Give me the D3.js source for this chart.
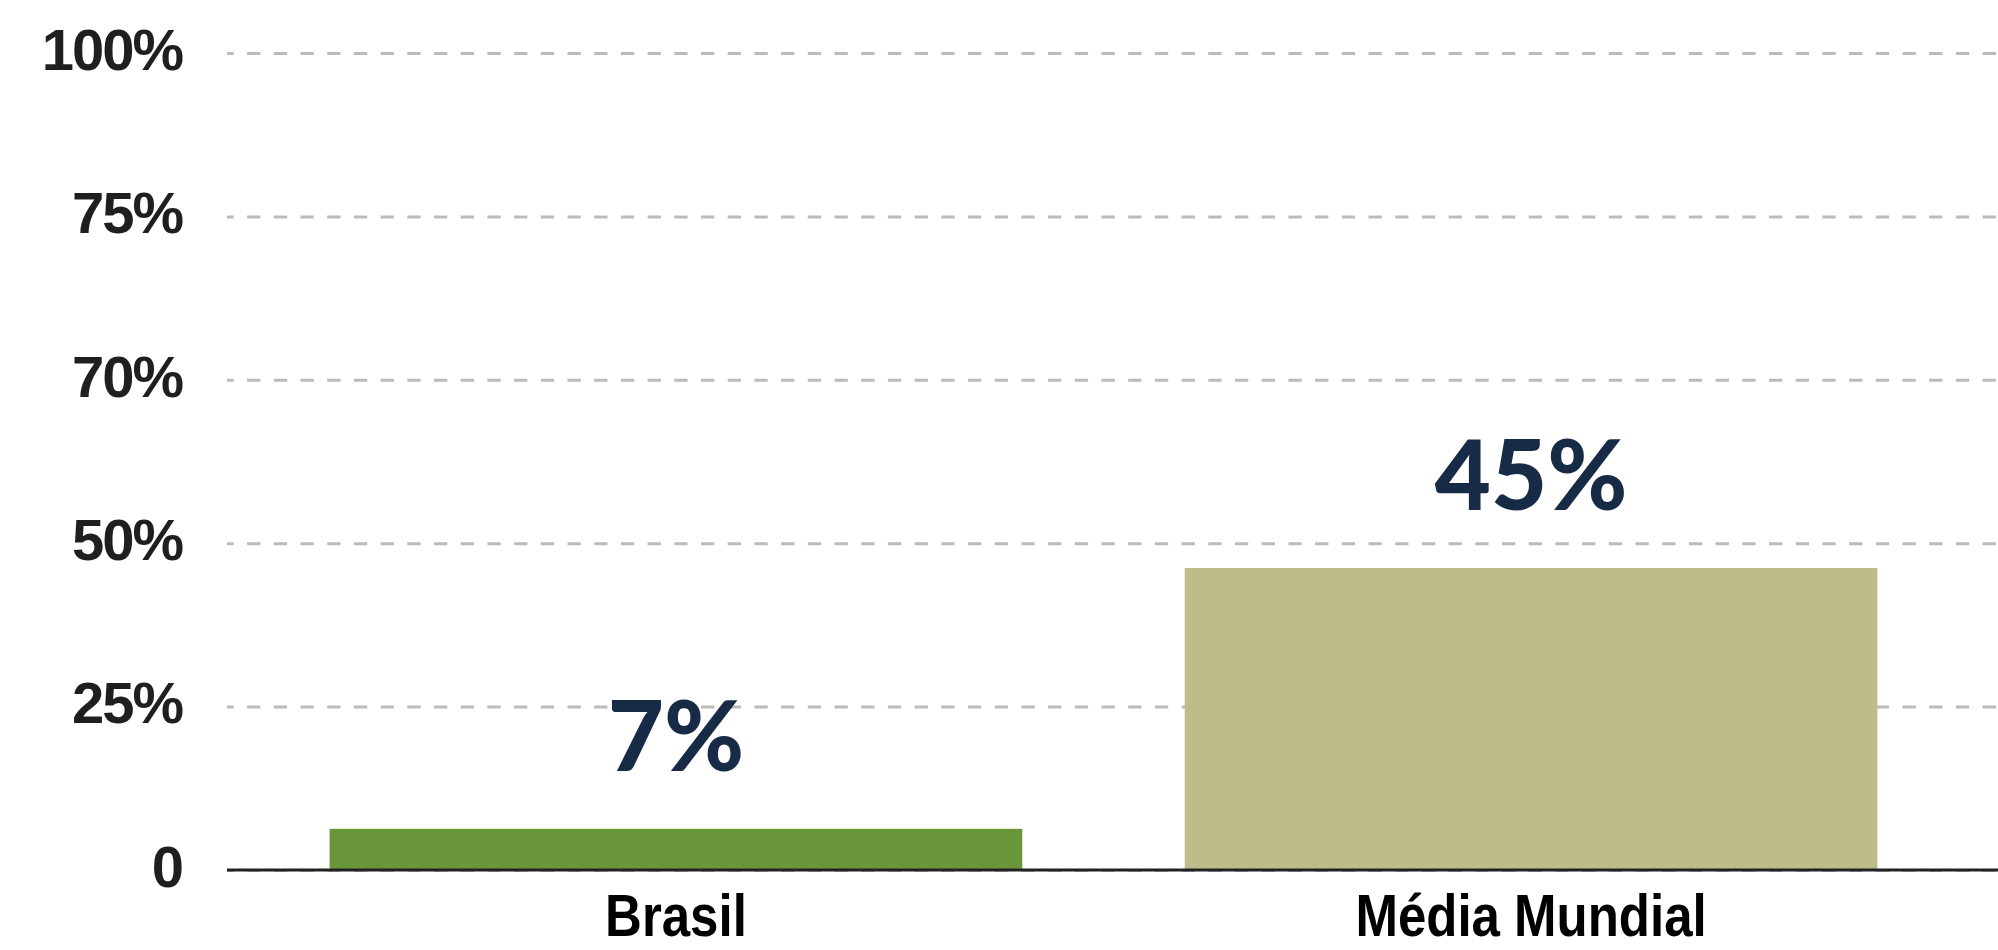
<!DOCTYPE html>
<html>
<head>
<meta charset="utf-8">
<script src="https://cdn.jsdelivr.net/npm/d3@7"></script>
<style>
  body { margin: 0; background: #fff; }
  svg { display: block; }
</style>
</head>
<body>
<div id="chart"></div>
<script>
const categories = ["Brasil", "Média Mundial"];
const values = [6.3, 46.2];
const valueLabels = ["7%", "45%"];
const barColors = ["#689638", "#bebc8b"];
const yTicks = [0, 25, 50, 75, 100, 125];
const yTickLabels = ["0", "25%", "50%", "70%", "75%", "100%"];

const svgWidth = 1998;
const svgHeight = 950;
const margin = { top: 53, right: 0, bottom: 80, left: 227 };
const height = svgHeight - margin.top - margin.bottom;
const width = svgWidth - margin.left - margin.right;

const svg = d3
  .select("#chart")
  .append("svg")
  .attr("width", svgWidth)
  .attr("height", svgHeight);

const g = svg
  .append("g")
  .attr("transform", `translate(${margin.left},${margin.top})`);

const x = d3
  .scaleBand()
  .domain(categories)
  .range([0, 1753])
  .paddingInner(0.19)
  .paddingOuter(0.12);

const y = d3.scaleLinear().domain([0, 125]).range([height, 0]);

// y axis with dashed gridlines
const yAxis = g
  .append("g")
  .attr("class", "y-axis")
  .call(
    d3
      .axisLeft(y)
      .tickValues(yTicks)
      .tickFormat((d, i) => yTickLabels[i])
      .tickSize(-width)
      .tickPadding(45)
  );

yAxis.select(".domain").remove();
yAxis
  .selectAll(".tick line")
  .attr("stroke", "#bbbbbb")
  .attr("stroke-width", 3)
  .attr("stroke-dasharray", "13.3,13.4")
  .attr("stroke-dashoffset", 6.6);
yAxis
  .selectAll(".tick text")
  .attr("fill", "#1f1f1d")
  .attr("dy", "0.28em")
  .style("font-family", "'Liberation Sans', Arial, sans-serif")
  .style("font-weight", "bold")
  .style("font-size", "58px")
  .style("letter-spacing", "-2px");

// bars
g.selectAll(".bar")
  .data(categories)
  .enter()
  .append("rect")
  .attr("class", "bar")
  .attr("x", (d) => x(d))
  .attr("y", (d, i) => y(values[i]))
  .attr("width", x.bandwidth())
  .attr("height", (d, i) => height - y(values[i]))
  .attr("fill", (d, i) => barColors[i]);

// baseline
g.append("line")
  .attr("x1", 0)
  .attr("x2", width)
  .attr("y1", y(0))
  .attr("y2", y(0))
  .attr("stroke", "#222")
  .attr("stroke-width", 3);

// value labels
g.selectAll(".value-label")
  .data(categories)
  .enter()
  .append("text")
  .attr("class", "value-label")
  .attr("x", (d) => x(d) + x.bandwidth() / 2)
  .attr("y", (d, i) => y(values[i]) - 58)
  .attr("text-anchor", "middle")
  .attr("fill", "#172a46")
  .style("font-family", "Lato, 'Liberation Sans', sans-serif")
  .style("font-weight", "900")
  .style("font-size", "97px")
  .text((d, i) => valueLabels[i]);

// category labels (condensed look)
g.selectAll(".cat-label")
  .data(categories)
  .enter()
  .append("text")
  .attr("class", "cat-label")
  .attr(
    "transform",
    (d) => `translate(${x(d) + x.bandwidth() / 2},${height + 66}) scale(0.85,1)`
  )
  .attr("text-anchor", "middle")
  .attr("fill", "#000")
  .style("font-family", "'Liberation Sans', Arial, sans-serif")
  .style("font-weight", "bold")
  .style("font-size", "60px")
  .text((d) => d);
</script>
</body>
</html>
